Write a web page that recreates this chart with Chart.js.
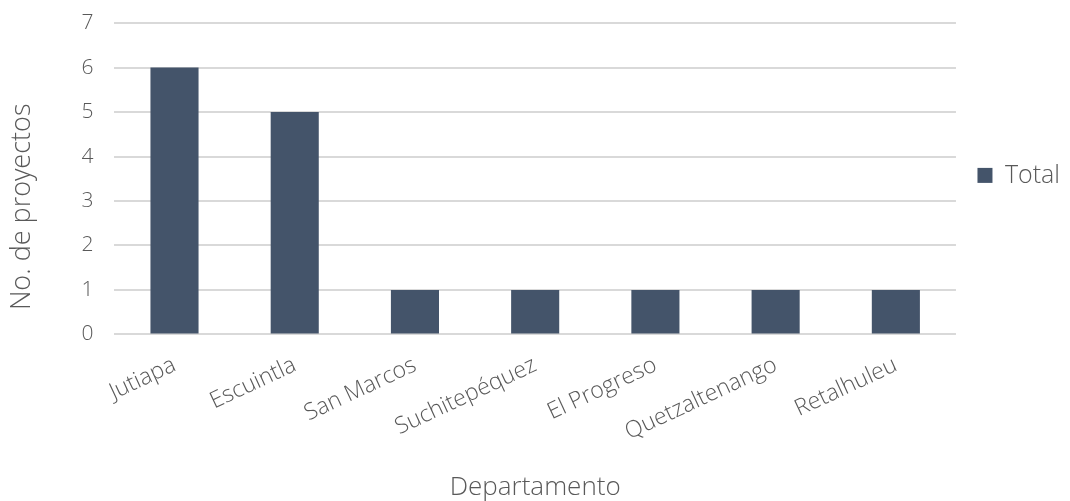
<!DOCTYPE html>
<html>
<head>
<meta charset="utf-8">
<script src="https://cdn.jsdelivr.net/npm/chart.js@4/dist/chart.umd.min.js"></script>
<style>
  html, body { margin: 0; padding: 0; background: #fff; }
  #wrap { width: 1070px; height: 501px; }
</style>
</head>
<body>
<div id="wrap"><canvas id="myChart" width="1070" height="501"></canvas></div>
<script>
// categories and values
const departamentos = ['Jutiapa', 'Escuintla', 'San Marcos', 'Suchitepéquez', 'El Progreso', 'Quetzaltenango', 'Retalhuleu']
const totales = [6, 5, 1, 1, 1, 1, 1]
const yTicks = [0, 1, 2, 3, 4, 5, 6, 7]

const TEXT = '#595959'
const FONT = 'Open Sans'

//creates chart
function drawChart() {
  var ctx = document.getElementById('myChart').getContext('2d')
  new Chart(ctx, {
    type: 'bar',
    data: {
      labels: departamentos,
      datasets: [{
        label: 'Total',
        backgroundColor: '#44546a',
        borderWidth: 0,
        data: totales,
        barPercentage: 0.8,
        categoryPercentage: 0.5
      }]
    },
    options: {
      responsive: false,
      animation: false,
      layout: { padding: { top: 1, left: 6, right: 0, bottom: 0 } },
      plugins: {
        tooltip: { enabled: false },
        legend: {
          position: 'right',
          align: 'start',
          title: {
            display: true,
            text: ' ',
            font: { size: 2 },
            padding: { top: 138, bottom: 0 }
          },
          labels: {
            color: TEXT,
            boxWidth: 15,
            boxHeight: 15,
            padding: 21.5,
            font: { family: FONT, size: 25, weight: 300 }
          }
        }
      },
      scales: {
        x: {
          grid: { display: false, drawTicks: false },
          border: { display: false },
          ticks: {
            color: TEXT,
            font: { family: FONT, size: 23, weight: 300 },
            minRotation: 25,
            maxRotation: 25,
            padding: 17
          },
          title: {
            display: true,
            text: 'Departamento',
            color: TEXT,
            font: { family: FONT, size: 26, weight: 300, lineHeight: 1 },
            padding: { top: 12, bottom: 0 }
          }
        },
        y: {
          min: 0,
          max: 7,
          afterBuildTicks: function (axis) {
            axis.ticks = yTicks.map(function (v) { return { value: v } })
          },
          grid: { color: '#d9d9d9', lineWidth: 2, drawTicks: false },
          border: { display: false },
          ticks: {
            color: TEXT,
            font: { family: FONT, size: 21, weight: 300, lineHeight: 0.2 },
            padding: 21
          },
          title: {
            display: true,
            // trailing spaces push the title a bit below the middle, like the original
            text: 'No. de proyectos        ',
            color: TEXT,
            font: { family: FONT, size: 27, weight: 300 },
            padding: { top: 0, bottom: 22 }
          }
        }
      }
    }
  })
}
drawChart()
</script>
</body>
</html>
